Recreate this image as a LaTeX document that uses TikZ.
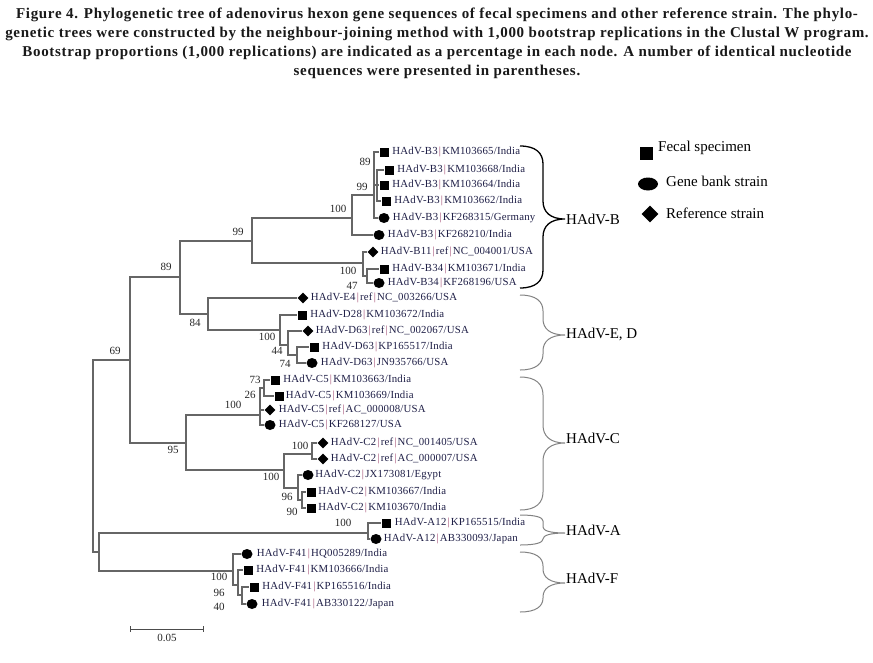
\documentclass[tikz,border=0pt]{standalone}
\usepackage{fontspec}
\setmainfont{Liberation Serif}
\newfontfamily\leaffont[LetterSpace=2]{Liberation Serif}
\newfontfamily\capfont[LetterSpace=4.5]{Liberation Serif}
\usetikzlibrary{positioning,shapes.geometric,arrows.meta}
\definecolor{leafblue}{RGB}{30,30,70}
\definecolor{sepred}{RGB}{160,70,110}
\definecolor{bracegray}{RGB}{130,130,130}
\newcommand{\strsep}{\hspace{1.2pt}\textcolor{sepred}{|}\hspace{1.2pt}}
% vertical curly brace: top, tip, bottom, radius
\newcommand{\cladebrace}[5][]{%
\draw[#1] (520,#2) .. controls (536,#2) and (543,#2+#5*0.4) .. (543,#2+#5) -- (543,#3-#5)
 .. controls (543,#3-#5*0.4) and (550,#3) .. (565,#3)
 .. controls (550,#3) and (543,#3+#5*0.4) .. (543,#3+#5) -- (543,#4-#5)
 .. controls (543,#4-#5*0.4) and (536,#4) .. (520,#4);}
\begin{document}
\begin{tikzpicture}[x=1pt, y=-1pt,
  branch/.style={draw=black!60, line width=1.2pt},
  fecal/.style={rectangle, fill, minimum size=9pt, inner sep=0pt},
  bank/.style={ellipse, fill, minimum width=11pt, minimum height=10pt, inner sep=0pt},
  refstrain/.style={diamond, fill, minimum size=11pt, inner sep=0pt},
  strain/.style={font=\leaffont\fontsize{10.8}{12}\selectfont, text=leafblue, inner sep=0pt},
  boot/.style={font=\fontsize{11}{12}\selectfont, text=black!85, inner sep=0pt},
  clade/.style={font=\fontsize{15}{16}\selectfont, inner sep=0pt, anchor=west},
  keytext/.style={font=\fontsize{15}{16}\selectfont, inner sep=0pt, anchor=west}]
\useasboundingbox (0,0) rectangle (873,662);
\node[font=\capfont\bfseries\fontsize{15}{19}\selectfont, text=black!90, align=center, anchor=north, inner sep=0pt] (cap) at (437,8)
 {Figure 4. Phylogenetic tree of adenovirus hexon gene sequences of fecal specimens and other reference strain. The phylo-\\
 genetic trees were constructed by the neighbour-joining method with 1,000 bootstrap replications in the Clustal W program.\\
 Bootstrap proportions (1,000 replications) are indicated as a percentage in each node. A number of identical nucleotide\\
 sequences were presented in parentheses.};
% inner nodes
\coordinate (iid0) at (93,456);
\coordinate (iid1) at (130,360);
\coordinate (iid2) at (99,552);
\coordinate (iid3) at (180,277);
\coordinate (iid4) at (186,443);
\coordinate (iid5) at (252,241);
\coordinate (iid6) at (208,314);
\coordinate (iid7) at (352,218);
\coordinate (iid8) at (363,263);
\coordinate (iid9) at (374,195);
\coordinate (iid10) at (377,185);
\coordinate (iid11) at (367,276);
\coordinate (iid12) at (280,330);
\coordinate (iid13) at (288,345);
\coordinate (iid14) at (297,355);
\coordinate (iid15) at (260,415);
\coordinate (iid16) at (264,388);
\coordinate (iid17) at (284,470);
\coordinate (iid18) at (312,454);
\coordinate (iid19) at (298,488);
\coordinate (iid20) at (302,500);
\coordinate (iid21) at (368,533);
\coordinate (iid22) at (233,571);
\coordinate (iid23) at (238,585);
\coordinate (iid24) at (242,595);
\draw[branch] (iid0) |- (iid1);
\draw[branch] (iid0) |- (iid2);
\draw[branch] (iid1) |- (iid3);
\draw[branch] (iid1) |- (iid4);
\draw[branch] (iid3) |- (iid5);
\draw[branch] (iid3) |- (iid6);
\draw[branch] (iid5) |- (iid7);
\draw[branch] (iid5) |- (iid8);
\draw[branch] (iid7) |- (iid9);
\draw[branch] (iid9) |- (iid10);
\draw[branch] (iid8) |- (iid11);
\draw[branch] (iid6) |- (iid12);
\draw[branch] (iid12) |- (iid13);
\draw[branch] (iid13) |- (iid14);
\draw[branch] (iid4) |- (iid15);
\draw[branch] (iid15) |- (iid16);
\draw[branch] (iid4) |- (iid17);
\draw[branch] (iid17) |- (iid18);
\draw[branch] (iid17) |- (iid19);
\draw[branch] (iid19) |- (iid20);
\draw[branch] (iid2) |- (iid21);
\draw[branch] (iid2) |- (iid22);
\draw[branch] (iid22) |- (iid23);
\draw[branch] (iid23) |- (iid24);
% HAdV-B
\node[fecal] (lid1) at (384,152){};
\node[fecal] (lid2) at (389,170){};
\node[fecal] (lid3) at (384,185){};
\node[fecal] (lid4) at (386,201){};
\node[bank] (lid5) at (384,218){};
\node[bank] (lid6) at (379,235){};
\node[refstrain] (lid7) at (373,252){};
\node[fecal] (lid8) at (384,269){};
\node[bank] (lid9) at (379,283){};
\draw[branch] (iid9) |- (lid1);
\draw[branch] (iid10) |- (lid2);
\draw[branch] (iid10) |- (lid3);
\draw[branch] (iid10) |- (lid4);
\draw[branch] (iid9) |- (lid5);
\draw[branch] (iid7) |- (lid6);
\draw[branch] (iid8) |- (lid7);
\draw[branch] (iid11) |- (lid8);
\draw[branch] (iid11) |- (lid9);
% HAdV-E, D
\node[refstrain] (lid10) at (303,298){};
\node[fecal] (lid11) at (302,315){};
\node[refstrain] (lid12) at (308,331){};
\node[fecal] (lid13) at (314,347){};
\node[bank] (lid14) at (312,363){};
\draw[branch] (iid6) |- (lid10);
\draw[branch] (iid12) |- (lid11);
\draw[branch] (iid13) |- (lid12);
\draw[branch] (iid14) |- (lid13);
\draw[branch] (iid14) |- (lid14);
% HAdV-C
\node[fecal] (lid15) at (275,380){};
\node[fecal] (lid16) at (279,396){};
\node[refstrain] (lid17) at (270,410){};
\node[bank] (lid18) at (270,425){};
\node[refstrain] (lid19) at (323,443){};
\node[refstrain] (lid20) at (323,459){};
\node[bank] (lid21) at (308,475){};
\node[fecal] (lid22) at (311,492){};
\node[fecal] (lid23) at (311,508){};
\draw[branch] (iid16) |- (lid15);
\draw[branch] (iid16) |- (lid16);
\draw[branch] (iid15) |- (lid17);
\draw[branch] (iid15) |- (lid18);
\draw[branch] (iid18) |- (lid19);
\draw[branch] (iid18) |- (lid20);
\draw[branch] (iid19) |- (lid21);
\draw[branch] (iid20) |- (lid22);
\draw[branch] (iid20) |- (lid23);
% HAdV-A, HAdV-F
\node[fecal] (lid24) at (386,523){};
\node[bank] (lid25) at (376,539){};
\node[bank] (lid26) at (247,554){};
\node[fecal] (lid27) at (248,570){};
\node[fecal] (lid28) at (254,587){};
\node[bank] (lid29) at (252,604){};
\draw[branch] (iid21) |- (lid24);
\draw[branch] (iid21) |- (lid25);
\draw[branch] (iid22) |- (lid26);
\draw[branch] (iid23) |- (lid27);
\draw[branch] (iid24) |- (lid28);
\draw[branch] (iid24) |- (lid29);
% strain names
\node[strain, right=3.5pt of lid1] (sid1) {HAdV-B3\strsep KM103665/India};
\node[strain, right=3.5pt of lid2] (sid2) {HAdV-B3\strsep KM103668/India};
\node[strain, right=3.5pt of lid3] (sid3) {HAdV-B3\strsep KM103664/India};
\node[strain, right=3.5pt of lid4] (sid4) {HAdV-B3\strsep KM103662/India};
\node[strain, right=3pt of lid5] (sid5) {HAdV-B3\strsep KF268315/Germany};
\node[strain, right=3pt of lid6] (sid6) {HAdV-B3\strsep KF268210/India};
\node[strain, right=2pt of lid7] (sid7) {HAdV-B11\strsep ref\strsep NC\_004001/USA};
\node[strain, right=3.5pt of lid8] (sid8) {HAdV-B34\strsep KM103671/India};
\node[strain, right=3pt of lid9] (sid9) {HAdV-B34\strsep KF268196/USA};
\node[strain, right=2pt of lid10] (sid10) {HAdV-E4\strsep ref\strsep NC\_003266/USA};
\node[strain, right=3.5pt of lid11] (sid11) {HAdV-D28\strsep KM103672/India};
\node[strain, right=2pt of lid12] (sid12) {HAdV-D63\strsep ref\strsep NC\_002067/USA};
\node[strain, right=3.5pt of lid13] (sid13) {HAdV-D63\strsep KP165517/India};
\node[strain, right=3pt of lid14] (sid14) {HAdV-D63\strsep JN935766/USA};
\node[strain, right=3.5pt of lid15] (sid15) {HAdV-C5\strsep KM103663/India};
\node[strain, right=2pt of lid16] (sid16) {HAdV-C5\strsep KM103669/India};
\node[strain, right=3pt of lid17] (sid17) {HAdV-C5\strsep ref\strsep AC\_000008/USA};
\node[strain, right=3pt of lid18] (sid18) {HAdV-C5\strsep KF268127/USA};
\node[strain, right=2pt of lid19] (sid19) {HAdV-C2\strsep ref\strsep NC\_001405/USA};
\node[strain, right=2pt of lid20] (sid20) {HAdV-C2\strsep ref\strsep AC\_000007/USA};
\node[strain, right=1.5pt of lid21] (sid21) {HAdV-C2\strsep JX173081/Egypt};
\node[strain, right=2.5pt of lid22] (sid22) {HAdV-C2\strsep KM103667/India};
\node[strain, right=2.5pt of lid23] (sid23) {HAdV-C2\strsep KM103670/India};
\node[strain, right=4pt of lid24] (sid24) {HAdV-A12\strsep KP165515/India};
\node[strain, right=2pt of lid25] (sid25) {HAdV-A12\strsep AB330093/Japan};
\node[strain, right=4pt of lid26] (sid26) {HAdV-F41\strsep HQ005289/India};
\node[strain, right=3.5pt of lid27] (sid27) {HAdV-F41\strsep KM103666/India};
\node[strain, right=3.5pt of lid28] (sid28) {HAdV-F41\strsep KP165516/India};
\node[strain, right=4pt of lid29] (sid29) {HAdV-F41\strsep AB330122/Japan};
% bootstrap values
\node[boot] (bid1) at (115,351) {69};
\node[boot] (bid2) at (166,267) {89};
\node[boot] (bid3) at (238,232) {99};
\node[boot] (bid4) at (338,209) {100};
\node[boot] (bid5) at (362,187) {99};
\node[boot] (bid6) at (365,162) {89};
\node[boot] (bid7) at (348,271) {100};
\node[boot] (bid8) at (352,286) {47};
\node[boot] (bid9) at (195,323) {84};
\node[boot] (bid10) at (267,337) {100};
\node[boot] (bid11) at (277,351) {44};
\node[boot] (bid12) at (285,364) {74};
\node[boot] (bid13) at (255,380) {73};
\node[boot] (bid14) at (250,395) {26};
\node[boot] (bid15) at (233,405) {100};
\node[boot] (bid16) at (173,450) {95};
\node[boot] (bid17) at (300,446) {100};
\node[boot] (bid18) at (271,477) {100};
\node[boot] (bid19) at (287,497) {96};
\node[boot] (bid20) at (292,512) {90};
\node[boot] (bid21) at (343,523) {100};
\node[boot] (bid22) at (219,577) {100};
\node[boot] (bid23) at (219,593) {96};
\node[boot] (bid24) at (219,607) {40};
% clades
\cladebrace[black, line width=1.3pt]{146}{219}{288}{18}
\cladebrace[bracegray, line width=1pt]{295}{335}{370}{16}
\cladebrace[bracegray, line width=1pt]{377}{443}{510}{18}
\cladebrace[bracegray, line width=1pt]{515}{533}{545}{6}
\cladebrace[bracegray, line width=1pt]{552}{583}{612}{14}
\node[clade] (cid1) at (566,219) {HAdV-B};
\node[clade] (cid2) at (566,334) {HAdV-E, D};
\node[clade] (cid3) at (566,438) {HAdV-C};
\node[clade] (cid4) at (566,530) {HAdV-A};
\node[clade] (cid5) at (566,578) {HAdV-F};
% legend
\node[fecal, minimum size=13pt] (key1) at (646,153){};
\node[bank, minimum width=20pt, minimum height=13pt] (key2) at (648,184){};
\node[refstrain, minimum size=17pt] (key3) at (650,214){};
\node[keytext] (keyt1) at (658,148) {Fecal specimen};
\node[keytext] (keyt2) at (666,181) {Gene bank strain};
\node[keytext] (keyt3) at (666,213) {Reference strain};
% scale bar
\coordinate (sb0) at (130,629);
\coordinate (sb1) at (204,629);
\draw[black!70, line width=1pt, {Bar[width=6pt]}-{Bar[width=6pt]}] (sb0) -- (sb1);
\node[boot] (sblab) at (167,638) {0.05};
\end{tikzpicture}
\end{document}
